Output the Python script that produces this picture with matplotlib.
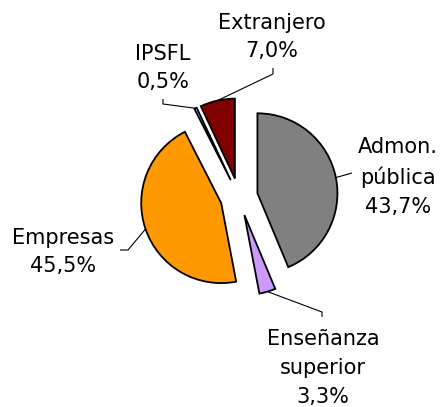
import numpy as np
import matplotlib
matplotlib.use("Agg")
import matplotlib.pyplot as plt

categories = ["Admon.\npública", "Enseñanza\nsuperior", "Empresas", "IPSFL", "Extranjero"]
values = [43.7, 3.3, 45.5, 0.5, 7.0]
value_labels = ["43,7%", "3,3%", "45,5%", "0,5%", "7,0%"]
colors = ["#808080", "#CC99FF", "#FF9900", "#99CCFF", "#800000"]

W, H = 442, 407
cx, cy, R = 239, 197, 80.0
explode_r = 0.235

fig = plt.figure(figsize=(W / 100, H / 100), dpi=100)
ax = fig.add_axes([0, 0, 1, 1])

wedges, _ = ax.pie(values, colors=colors, startangle=90, counterclock=False,
                   explode=[explode_r] * len(values), radius=1.0,
                   wedgeprops=dict(edgecolor="black", linewidth=1.3))
ax.set_aspect("equal")
ax.set_xlim(-cx / R, (W - cx) / R)
ax.set_ylim((cy - H) / R, cy / R)
ax.axis("off")


def px(p):
    return ((p[0] - cx) / R, (cy - p[1]) / R)

# label block centres and leader-line elbows in pixel coordinates
label_pos = [(398, 177), (323, 368), (63, 252), (163, 68), (272, 37)]
leaders = [
    [(352, 173)],
    [(322, 312), (322, 317)],
    [(128, 250), (120, 250)],
    [(163, 104), (163, 99)],
    [(273, 74), (273, 68)],
]

for w, cat, vl, lp, ld in zip(wedges, categories, value_labels, label_pos, leaders):
    mid = np.deg2rad((w.theta1 + w.theta2) / 2)
    cxw, cyw = w.center
    start = (cxw + np.cos(mid), cyw + np.sin(mid))
    pts = [start] + [px(p) for p in ld]
    xs, ys = zip(*pts)
    ax.plot(xs, ys, color="black", lw=0.8, solid_capstyle="butt")
    ax.text(*px(lp), f"{cat}\n{vl}", ha="center", va="center", fontsize=15,
            linespacing=1.54, family="DejaVu Sans", color="black")

fig.savefig("out.png", dpi=100)
